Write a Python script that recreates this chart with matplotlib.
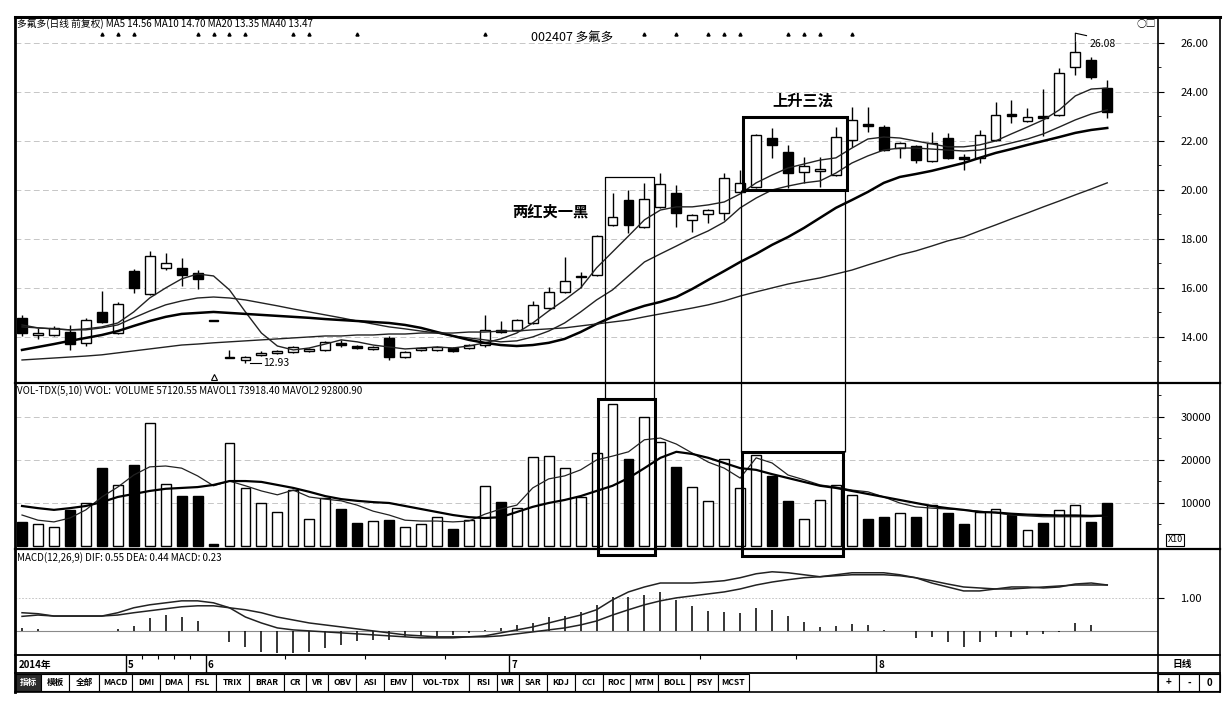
import matplotlib
matplotlib.use("Agg")
import matplotlib.pyplot as plt
from matplotlib.patches import Rectangle
import numpy as np

plt.rcParams['font.family'] = ['Noto Sans CJK SC', 'DejaVu Sans']

# daily candles, 002407 多氟多 (prices)
opens = [14.78, 14.08, 14.08, 14.20, 13.76, 15.02, 14.16, 16.69, 15.76, 16.82,
         16.82, 16.61, 14.69, 13.14, 13.06, 13.27, 13.35, 13.39, 13.43, 13.47,
         13.76, 13.63, 13.51, 13.96, 13.18, 13.47, 13.47, 13.55, 13.55, 13.67,
         14.29, 14.29, 14.57, 15.18, 15.84, 16.45, 16.53, 18.57, 19.59, 18.49,
         19.31, 19.88, 18.78, 19.02, 19.06, 19.92, 20.12, 22.12, 21.55, 20.73,
         20.78, 20.61, 22.04, 22.69, 22.57, 21.71, 21.80, 21.18, 22.12, 21.35,
         21.31, 22.04, 23.10, 22.82, 23.02, 23.06, 25.02, 25.31, 24.16]
highs = [14.90, 14.37, 14.45, 14.49, 14.78, 15.88, 15.43, 16.78, 17.51, 17.43,
         17.22, 16.73, 14.69, 13.47, 13.22, 13.43, 13.47, 13.63, 13.55, 13.84,
         13.88, 13.67, 13.63, 14.04, 13.43, 13.59, 13.63, 13.59, 13.71, 14.90,
         14.65, 14.73, 15.47, 16.04, 17.27, 16.65, 18.16, 19.88, 20.00, 20.29,
         20.69, 20.20, 19.02, 19.22, 20.69, 20.82, 22.29, 22.53, 21.84, 21.35,
         21.35, 22.57, 23.39, 23.39, 22.65, 21.96, 21.84, 22.37, 22.33, 21.47,
         22.45, 23.59, 23.67, 23.35, 24.12, 24.98, 26.08, 25.43, 24.49]
lows = [14.04, 13.92, 14.04, 13.47, 13.63, 14.57, 14.12, 15.80, 15.71, 16.73,
        16.08, 15.96, 14.65, 13.14, 12.93, 13.22, 13.31, 13.35, 13.39, 13.43,
        13.59, 13.51, 13.47, 13.06, 13.14, 13.43, 13.43, 13.39, 13.51, 13.59,
        14.16, 14.24, 14.53, 15.14, 15.80, 16.00, 16.49, 18.53, 18.24, 18.45,
        19.27, 18.49, 18.29, 18.65, 18.78, 19.88, 20.08, 21.31, 20.08, 20.29,
        20.12, 20.57, 21.76, 22.37, 21.59, 21.31, 21.10, 21.14, 21.27, 20.82,
        21.10, 22.00, 22.73, 22.78, 22.20, 23.02, 24.69, 24.53, 22.94]
closes = [14.16, 14.16, 14.37, 13.71, 14.69, 14.61, 15.35, 16.00, 17.31, 17.02,
          16.53, 16.37, 14.65, 13.16, 13.18, 13.35, 13.43, 13.59, 13.51, 13.80,
          13.67, 13.55, 13.59, 13.18, 13.39, 13.55, 13.59, 13.43, 13.67, 14.29,
          14.20, 14.69, 15.31, 15.84, 16.29, 16.49, 18.12, 18.90, 18.57, 19.63,
          20.24, 19.06, 18.98, 19.18, 20.49, 20.29, 22.24, 21.84, 20.69, 20.98,
          20.84, 22.16, 22.86, 22.61, 21.63, 21.92, 21.22, 21.92, 21.31, 21.27,
          22.24, 23.06, 23.02, 22.98, 22.94, 24.78, 25.63, 24.61, 23.18]

ma5 = [14.49, 14.37, 14.33, 14.29, 14.33, 14.41, 14.57, 15.02, 15.59, 16.00,
       16.37, 16.57, 16.49, 15.92, 15.02, 14.16, 13.63, 13.47, 13.55, 13.71,
       13.88, 13.80, 13.67, 13.59, 13.51, 13.55, 13.59, 13.55, 13.63, 13.76,
       13.92, 14.16, 14.57, 15.06, 15.51, 16.00, 16.82, 17.47, 18.12, 18.78,
       19.18, 19.31, 19.31, 19.39, 19.51, 19.84, 20.29, 20.61, 20.90, 21.06,
       21.22, 21.31, 21.71, 22.08, 22.16, 22.12, 22.00, 21.88, 21.76, 21.76,
       21.84, 22.00, 22.29, 22.57, 22.86, 23.27, 23.84, 24.12, 24.16]
ma10 = [14.41, 14.37, 14.33, 14.29, 14.29, 14.37, 14.49, 14.78, 15.06, 15.31,
        15.47, 15.59, 15.63, 15.59, 15.51, 15.39, 15.27, 15.14, 15.02, 14.90,
        14.78, 14.65, 14.53, 14.41, 14.33, 14.24, 14.16, 14.04, 13.96, 13.88,
        13.80, 13.84, 14.00, 14.24, 14.57, 15.02, 15.51, 15.92, 16.49, 17.06,
        17.39, 17.71, 18.04, 18.33, 18.69, 19.27, 19.67, 20.00, 20.16, 20.29,
        20.37, 20.69, 21.10, 21.39, 21.63, 21.71, 21.71, 21.67, 21.63, 21.59,
        21.63, 21.76, 21.92, 22.08, 22.29, 22.57, 22.86, 23.10, 23.27]
ma20 = [13.47, 13.59, 13.71, 13.84, 13.96, 14.08, 14.24, 14.45, 14.65, 14.82,
        14.94, 14.98, 15.02, 14.98, 14.94, 14.90, 14.86, 14.82, 14.78, 14.73,
        14.69, 14.65, 14.61, 14.57, 14.49, 14.37, 14.20, 14.04, 13.88, 13.76,
        13.67, 13.63, 13.67, 13.76, 13.92, 14.20, 14.53, 14.82, 15.06, 15.27,
        15.43, 15.63, 15.96, 16.33, 16.69, 17.06, 17.39, 17.76, 18.08, 18.45,
        18.86, 19.27, 19.59, 19.92, 20.29, 20.53, 20.65, 20.78, 20.94, 21.10,
        21.31, 21.51, 21.67, 21.84, 22.00, 22.16, 22.33, 22.45, 22.53]
ma40 = [13.06, 13.10, 13.14, 13.18, 13.22, 13.27, 13.35, 13.43, 13.51, 13.59,
        13.67, 13.71, 13.76, 13.80, 13.84, 13.88, 13.92, 13.96, 14.00, 14.04,
        14.04, 14.08, 14.08, 14.12, 14.12, 14.16, 14.16, 14.16, 14.20, 14.20,
        14.24, 14.24, 14.29, 14.33, 14.37, 14.45, 14.53, 14.61, 14.69, 14.82,
        14.94, 15.06, 15.18, 15.31, 15.47, 15.67, 15.84, 16.00, 16.16, 16.29,
        16.41, 16.57, 16.73, 16.94, 17.14, 17.35, 17.51, 17.71, 17.92, 18.08,
        18.33, 18.57, 18.82, 19.06, 19.31, 19.55, 19.80, 20.04, 20.29]

volume = [5600, 5100, 4400, 8400, 10000, 18100, 14200, 18800, 28600, 14400,
          11600, 11600, 500, 24000, 13500, 10000, 7900, 13000, 6300, 11200,
          8600, 5300, 5800, 6000, 4400, 5100, 6700, 4000, 6000, 14000,
          10200, 8800, 20700, 20900, 18100, 11400, 21600, 33000, 20200, 30000,
          24200, 18400, 13800, 10500, 20200, 13400, 21200, 16300, 10500, 6300,
          10700, 14200, 11900, 6300, 6800, 7700, 6800, 9500, 7700, 5100,
          7900, 8600, 7200, 3700, 5300, 8400, 9500, 5600, 10000]
mavol1 = [7200, 6000, 5600, 6500, 8400, 11400, 13700, 16500, 18400, 18600,
          18100, 16300, 14000, 15100, 14000, 12800, 11900, 13000, 11400, 10900,
          10500, 9500, 8100, 7200, 6000, 5800, 5800, 5600, 5800, 7400,
          8600, 9500, 13500, 15600, 16300, 17700, 20000, 20900, 21900, 24700,
          25100, 23700, 21600, 19500, 18100, 15800, 20500, 19300, 16500, 15400,
          14200, 13700, 13000, 12600, 11400, 10000, 9100, 8800, 8600, 8400,
          8100, 7700, 7200, 7000, 6800, 6800, 6800, 6800, 7000]
mavol2 = [9300, 8800, 8400, 8800, 9300, 10200, 11400, 12100, 12800, 13300,
          13500, 13700, 14200, 15100, 15100, 14900, 14200, 13500, 12600, 11600,
          10900, 10500, 10200, 10000, 9300, 8600, 7900, 7200, 6700, 6500,
          6700, 7900, 9100, 10000, 10700, 11600, 12800, 14000, 15800, 18100,
          20500, 21900, 21400, 20500, 19300, 18100, 17700, 16700, 15800, 14900,
          14000, 13500, 12800, 12100, 11400, 10700, 10000, 9300, 8800, 8400,
          7900, 7800, 7500, 7300, 7200, 7100, 7100, 7000, 7100]

dif = [0.55, 0.52, 0.45, 0.45, 0.45, 0.45, 0.55, 0.70, 0.79, 0.85,
       0.91, 0.91, 0.85, 0.70, 0.42, 0.24, 0.09, 0.03, 0.00, -0.03,
       -0.06, -0.09, -0.12, -0.15, -0.18, -0.21, -0.21, -0.21, -0.18, -0.15,
       -0.06, 0.03, 0.12, 0.24, 0.36, 0.48, 0.64, 0.94, 1.18, 1.33,
       1.45, 1.45, 1.45, 1.48, 1.52, 1.61, 1.73, 1.79, 1.76, 1.70,
       1.64, 1.70, 1.76, 1.76, 1.76, 1.70, 1.61, 1.45, 1.33, 1.21,
       1.21, 1.27, 1.33, 1.33, 1.30, 1.33, 1.42, 1.45, 1.39]
dea = [0.44, 0.48, 0.45, 0.45, 0.45, 0.45, 0.48, 0.55, 0.61, 0.67,
       0.73, 0.76, 0.76, 0.70, 0.64, 0.55, 0.42, 0.33, 0.24, 0.18,
       0.12, 0.06, 0.00, -0.06, -0.12, -0.15, -0.18, -0.18, -0.18, -0.18,
       -0.15, -0.09, -0.03, 0.03, 0.09, 0.18, 0.30, 0.48, 0.64, 0.79,
       0.91, 1.00, 1.06, 1.12, 1.18, 1.27, 1.39, 1.48, 1.55, 1.61,
       1.64, 1.67, 1.70, 1.70, 1.70, 1.67, 1.61, 1.52, 1.42, 1.33,
       1.30, 1.27, 1.27, 1.30, 1.33, 1.36, 1.39, 1.39, 1.39]
macd_hist = [0.09, 0.06, 0.0, 0.0, 0.0, 0.0, 0.05, 0.15, 0.39, 0.48,
             0.42, 0.30, 0.0, -0.33, -0.48, -0.64, -0.67, -0.67, -0.64, -0.53,
             -0.42, -0.32, -0.28, -0.27, -0.18, -0.16, -0.14, -0.12, -0.06, 0.03,
             0.09, 0.17, 0.25, 0.42, 0.45, 0.58, 0.79, 1.03, 1.03, 1.09,
             1.18, 0.94, 0.76, 0.61, 0.58, 0.55, 0.70, 0.64, 0.45, 0.27,
             0.12, 0.15, 0.21, 0.18, 0.03, 0.0, -0.21, -0.17, -0.33, -0.48,
             -0.33, -0.17, -0.17, -0.12, -0.09, -0.03, 0.24, 0.18, 0.0]

price_ticks = [14, 16, 18, 20, 22, 24, 26]
vol_ticks = [10000, 20000, 30000]
info_marks = [5, 6, 7, 11, 12, 13, 14, 17, 18, 21, 29, 39, 41, 43, 44, 45, 48, 49, 50, 52]
month_pos = [6.5, 11.5, 30.5, 53.5]
month_labels = ['5', '6', '7', '8']
week_pos = [7.5, 8.5, 9.5, 10.5, 16.5, 21.5, 26.5, 42.5, 48.5]
buttons = ['指标', '模板', '全部', 'MACD', 'DMI', 'DMA', 'FSL', 'TRIX', 'BRAR', 'CR',
           'VR', 'OBV', 'ASI', 'EMV', 'VOL-TDX', 'RSI', 'WR', 'SAR', 'KDJ', 'CCI',
           'ROC', 'MTM', 'BOLL', 'PSY', 'MCST']
button_w = [26, 28, 30, 33, 28, 28, 28, 33, 35, 22, 22, 28, 28, 28, 57, 28, 22, 28,
            28, 28, 27, 28, 32, 28, 31]

n = len(closes)
x = np.arange(n)
up = np.array(closes) >= np.array(opens)
fills = np.where(up, 'white', 'black')

W, H = 1232, 704
def box(left, top, right, bottom):
    return [left / W, 1 - bottom / H, (right - left) / W, (bottom - top) / H]

fig = plt.figure(figsize=(12.32, 7.04), dpi=100, facecolor='white')
ax_p = fig.add_axes(box(15, 17, 1158, 383), facecolor='none')
ax_v = fig.add_axes(box(15, 383, 1158, 549), facecolor='none')
ax_m = fig.add_axes(box(15, 549, 1158, 655), facecolor='none')
ax_d = fig.add_axes(box(15, 655, 1158, 673), facecolor='none')
XL = (-0.44, 71.18)

for ax in (ax_p, ax_v, ax_m, ax_d):
    ax.set_xlim(*XL)
    ax.set_xticks([])
    for s in ax.spines.values():
        s.set_visible(False)
    ax.yaxis.tick_right()
    ax.tick_params(axis='y', which='major', direction='out', length=4,
                   pad=12, labelsize=8, color='black')
    ax.tick_params(axis='y', which='minor', direction='out', length=2, color='black')

grid_kw = dict(color='#bdbdbd', lw=0.6, ls=(0, (7, 4)), zorder=0)

# ---- price panel
ax_p.set_ylim(12.12, 27.06)
ax_p.set_yticks(price_ticks)
ax_p.set_yticklabels([f'{t:.2f}' for t in price_ticks])
ax_p.set_yticks(np.arange(13, 26, 2), minor=True)
for t in price_ticks:
    ax_p.axhline(t, **grid_kw)
ax_p.vlines(x, lows, highs, color='black', lw=1.0, zorder=3)
body = np.maximum(np.abs(np.array(closes) - np.array(opens)), 0.035)
ax_p.bar(x, body, bottom=np.minimum(opens, closes), width=0.62, color=fills,
         edgecolor='black', lw=1.0, zorder=4)
ax_p.plot(x, ma5, color='#222222', lw=1.0, zorder=5)
ax_p.plot(x, ma10, color='#222222', lw=1.0, zorder=5)
ax_p.plot(x, ma20, color='black', lw=1.8, zorder=5)
ax_p.plot(x, ma40, color='#222222', lw=1.0, zorder=5)
ax_p.plot(info_marks, [26.35] * len(info_marks), ls='none', marker='^',
          ms=2.2, color='black')

ax_p.text(0.002, 0.996, '多氟多(日线 前复权) MA5 14.56 MA10 14.70 MA20 13.35 MA40 13.47',
          transform=ax_p.transAxes, fontsize=7, va='top', ha='left')
ax_p.text(0.487, 0.943, '002407 多氟多', transform=ax_p.transAxes, fontsize=9,
          va='center', ha='center')
ax_p.plot([66, 66, 66.7], [26.08, 26.4, 26.3], color='black', lw=0.8)
ax_p.text(66.9, 25.95, '26.08', fontsize=7.5, va='center', ha='left')
ax_p.plot([14.3, 15.0], [12.95, 12.95], color='black', lw=0.8)
ax_p.text(15.1, 12.95, '12.93', fontsize=7.5, va='center', ha='left')
ax_p.plot([12], [12.35], marker='^', ms=4, mfc='none', mec='black', mew=0.8)
ax_p.text(33.1, 19.14, '两红夹一黑', fontsize=11, fontweight='bold',
          ha='center', va='center')
ax_p.text(48.9, 23.67, '上升三法', fontsize=11, fontweight='bold',
          ha='center', va='center')

# pattern boxes (price panel)
ax_p.plot([36.53, 36.53, 39.6, 39.6], [12.12, 20.53, 20.53, 12.12],
          color='black', lw=0.9, clip_on=False, zorder=6)
ax_p.add_patch(Rectangle((45.18, 20.0), 6.51, 2.98, fill=False, lw=2.2,
                         ec='black', zorder=6))
ax_p.vlines([45.05, 51.57], 12.12, 20.0, color='black', lw=0.9, zorder=6)

# ---- volume panel
ax_v.set_ylim(-700, 37900)
ax_v.set_yticks(vol_ticks)
ax_v.set_yticklabels([str(t) for t in vol_ticks])
ax_v.set_yticks([5000, 15000, 25000, 35000], minor=True)
for t in vol_ticks:
    ax_v.axhline(t, **grid_kw)
ax_v.bar(x, volume, width=0.62, color=fills, edgecolor='black', lw=1.0, zorder=3)
ax_v.plot(x, mavol1, color='#222222', lw=0.9, zorder=4)
ax_v.plot(x, mavol2, color='black', lw=1.6, zorder=4)
ax_v.text(0.002, 0.985, 'VOL-TDX(5,10) VVOL:  VOLUME 57120.55 MAVOL1 73918.40 MAVOL2 92800.90',
          transform=ax_v.transAxes, fontsize=7, va='top', ha='left')
ax_v.vlines([36.53, 39.6], 34200, 37900, color='black', lw=0.9, zorder=6)
ax_v.add_patch(Rectangle((36.09, -2090), 3.57, 36290, fill=False, lw=2.2,
                         ec='black', zorder=6, clip_on=False))
ax_v.vlines([45.05, 51.57], 21860, 37900, color='black', lw=0.9, zorder=6)
ax_v.add_patch(Rectangle((45.11, -2330), 6.33, 24190, fill=False, lw=2.2,
                         ec='black', zorder=6, clip_on=False))

# ---- MACD panel
ax_m.set_ylim(-0.73, 2.48)
ax_m.set_yticks([1.0])
ax_m.set_yticklabels(['1.00'])
ax_m.axhline(1.0, color='#bdbdbd', lw=0.6, ls=(0, (2, 2)), zorder=0)
ax_m.axhline(0.0, color='#8a8a8a', lw=0.8, zorder=1)
ax_m.vlines(x, 0, macd_hist, color='black', lw=1.1, zorder=3)
ax_m.plot(x, dif, color='#222222', lw=1.1, zorder=4)
ax_m.plot(x, dea, color='#222222', lw=1.1, zorder=4)
ax_m.text(0.002, 0.975, 'MACD(12,26,9) DIF: 0.55 DEA: 0.44 MACD: 0.23',
          transform=ax_m.transAxes, fontsize=7, va='top', ha='left')

# ---- date row
ax_d.set_ylim(0, 1)
ax_d.set_yticks([])
ax_d.vlines(month_pos, 0, 1, color='black', lw=1.0)
ax_d.vlines(week_pos, 0.8, 1, color='black', lw=0.8)
for p, lab in zip(month_pos, month_labels):
    ax_d.text(p + 0.15, 0.45, lab, fontsize=7, fontweight='bold', va='center', ha='left')
ax_d.text(-0.2, 0.45, '2014年', fontsize=7, fontweight='bold', va='center', ha='left')

# ---- frame, buttons and right column
fr = fig.add_axes([0, 0, 1, 1], facecolor='none', zorder=10)
fr.set_xlim(0, W)
fr.set_ylim(H, 0)
fr.axis('off')
fr.plot([15, 15], [17, 692], color='black', lw=2.0)
fr.plot([15, 1220], [17, 17], color='black', lw=2.2)
fr.plot([1220, 1220], [17, 692], color='black', lw=1.2)
fr.plot([15, 1220], [692, 692], color='black', lw=1.2)
fr.plot([1158, 1158], [17, 692], color='black', lw=1.2)
for yy, lw in ((383, 1.6), (549, 1.6), (655, 1.3), (673, 1.3)):
    fr.plot([15, 1220], [yy, yy], color='black', lw=lw)

bx = 15
for lab, w in zip(buttons, button_w):
    dark = lab == '指标'
    fr.add_patch(Rectangle((bx, 674), w, 17, fc='#2b2b2b' if dark else 'white',
                           ec='black', lw=0.8))
    fr.text(bx + w / 2, 682.5, lab, fontsize=6.2, fontweight='bold',
            color='white' if dark else 'black', ha='center', va='center')
    bx += w
for i, lab in enumerate(['+', '-', '0']):
    x0 = 1158 + i * 20.7
    fr.add_patch(Rectangle((x0, 674), 20.7, 17, fc='white', ec='black', lw=0.8))
    fr.text(x0 + 10.3, 682.5, lab, fontsize=7, fontweight='bold', ha='center', va='center')
fr.text(1182, 664, '日线', fontsize=7, fontweight='bold', ha='center', va='center')
fr.text(1175, 540, 'X10', fontsize=6.5, ha='center', va='center',
        bbox=dict(boxstyle='square,pad=0.15', fc='white', ec='black', lw=0.8))
fr.text(1146, 24, '○□', fontsize=7, ha='center', va='center')

fig.savefig('out.png', dpi=100, facecolor='white')
